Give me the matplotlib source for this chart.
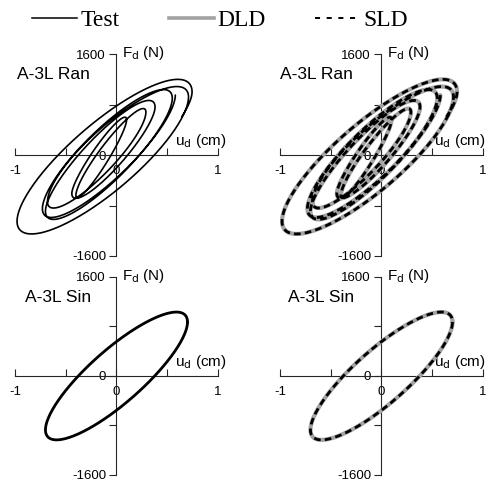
import numpy as np
import matplotlib
matplotlib.use("Agg")
import matplotlib.pyplot as plt
from matplotlib.lines import Line2D

plt.rcParams.update({
    "font.family": ["Liberation Sans", "DejaVu Sans"],
    "axes.unicode_minus": False,
    "mathtext.default": "regular",
})

# ---------------------------------------------------------------------------
# Loop data: turning points (u in cm, F in N) and half-cycle openings (N)
# ---------------------------------------------------------------------------
# random excitation: consecutive displacement peaks and the force at each peak
ran_u_peak = [0.58, -0.73, 0.55, -0.70, 0.38, -0.44, 0.10, -0.40, 0.29,
              -0.68, 0.71, -0.98, 0.745, -0.30]
ran_f_peak = [950, -850, 900, -890, 760, -610, 560, -640, 680,
              -740, 920, -1050, 1000, -500]
# force offset from the peak-to-peak chord at mid-stroke, per half-cycle
ran_f_open = [520, 510, 500, 430, 330, 220, 210, 280, 390,
              550, 660, 670, 420]
ran_last_frac = 0.2      # part of the final half-cycle recorded

# sinusoidal excitation: one steady cycle
sin_u_peak = [0.70, -0.70, 0.70]
sin_f_peak = [871, -871, 871]
sin_f_open = [555, 555]
sin_last_frac = 1.0

x_ticks = [-1, -0.5, 0, 0.5, 1]
x_ticklabels = ["-1", "", "0", "", "1"]
y_ticks = [-1600, -800, 0, 800, 1600]
y_ticklabels = ["-1600", "", "0", "", "1600"]

panels = [
    ("A-3L Ran", ran_u_peak, ran_f_peak, ran_f_open, ran_last_frac),
    ("A-3L Sin", sin_u_peak, sin_f_peak, sin_f_open, sin_last_frac),
]

GRAY = "#a3a3a3"
AXC = "#262626"


def loop_trace(u_peak, f_peak, f_open, last_frac, n=120):
    """Chain half-elliptic branches between successive displacement peaks."""
    us, fs = [], []
    n_half = len(u_peak) - 1
    for i in range(n_half):
        u0, u1 = u_peak[i], u_peak[i + 1]
        f0, f1 = f_peak[i], f_peak[i + 1]
        frac = last_frac if i == n_half - 1 else 1.0
        t = np.linspace(0, np.pi * frac, max(int(n * frac), 2))
        uc, uh = 0.5 * (u0 + u1), 0.5 * (u0 - u1)
        fc, fh = 0.5 * (f0 + f1), 0.5 * (f0 - f1)
        sgn = -1.0 if u1 < u0 else 1.0   # lower branch while unloading
        us.append(uc + uh * np.cos(t))
        fs.append(fc + fh * np.cos(t) + sgn * f_open[i] * np.sin(t))
    return np.concatenate(us), np.concatenate(fs)


def style_axes(ax, ulabel_x):
    for side in ("top", "right"):
        ax.spines[side].set_visible(False)
    ax.spines["left"].set_position(("data", 0))
    ax.spines["bottom"].set_position(("data", 0))
    for side in ("left", "bottom"):
        ax.spines[side].set_linewidth(0.8)
        ax.spines[side].set_color(AXC)
    ax.set_xlim(-1, 1)
    ax.set_ylim(-1600, 1600)
    ax.set_xticks(x_ticks)
    ax.set_xticklabels(x_ticklabels)
    ax.set_yticks(y_ticks)
    ax.set_yticklabels(y_ticklabels)
    ax.tick_params(axis="x", direction="in", length=5, width=0.8,
                   color=AXC, pad=7.5, labelsize=9.5)
    ax.tick_params(axis="y", direction="out", length=5, width=0.8,
                   color=AXC, pad=2.5, labelsize=9.5)
    ax.patch.set_visible(False)
    ax.text(0.05, 1620, r"F$_{\rm d}$ (N)", fontsize=11,
            ha="left", va="center")
    ax.text(ulabel_x, 80, r"u$_{\rm d}$ (cm)", fontsize=11,
            ha="left", va="bottom", clip_on=False)


fig = plt.figure(figsize=(4.89, 4.83), dpi=100)

lefts = [0.0307, 0.5726]
ulabel_xs = [0.58, 0.52]
rows = [(0.470, 0.418), (0.0166, 0.410)]
label_pos = [[(0.01, 0.90), (0.0, 0.90)], [(0.05, 0.894), (0.04, 0.894)]]

for r, (name, u_pk, f_pk, f_op, frac) in enumerate(panels):
    u, f = loop_trace(u_pk, f_pk, f_op, frac)
    for c in range(2):
        ax = fig.add_axes([lefts[c], rows[r][0], 0.415, rows[r][1]])
        style_axes(ax, ulabel_xs[c])
        if c == 0:
            # measured response
            ax.plot(u, f, color="black", lw=1.2 if r == 0 else 2.0,
                    zorder=3, solid_capstyle="round")
        else:
            # DLD and SLD model predictions
            ax.plot(u, f, color=GRAY, lw=3.0, zorder=3,
                    solid_capstyle="round")
            ax.plot(u, f, color="black", lw=2.0, zorder=4,
                    linestyle=(0, (2.4, 1.5)))
        lx, ly = label_pos[r][c]
        ax.text(lx, ly, name, transform=ax.transAxes, fontsize=12.5,
                ha="left", va="center")

handles = [
    Line2D([], [], color="black", lw=1.1),
    Line2D([], [], color=GRAY, lw=2.6),
    Line2D([], [], color="black", lw=1.4, linestyle=(0, (2.6, 3.4))),
]
fig.legend(handles, ["Test", "DLD", "SLD"], loc="center",
           bbox_to_anchor=(0.45, 1 - 20 / 483), ncol=3, frameon=False,
           prop={"family": "Liberation Serif", "size": 17},
           handlelength=1.9, handletextpad=0.15, columnspacing=2.1,
           borderpad=0, borderaxespad=0)

fig.savefig("out.png", dpi=100)
